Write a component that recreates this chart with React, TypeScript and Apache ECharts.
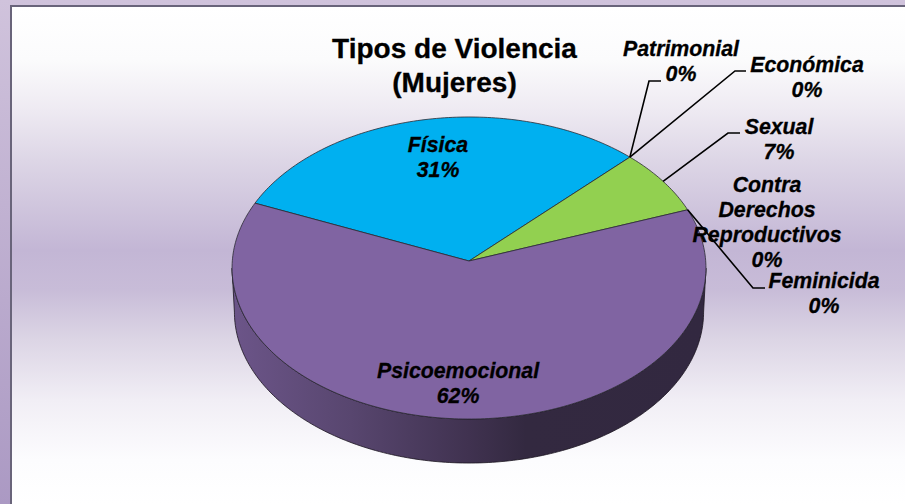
import React, { useEffect, useRef } from "react";
import * as echarts from "echarts";

const categories = ["Física", "Patrimonial", "Económica", "Sexual", "Contra\nDerechos\nReproductivos", "Feminicida", "Psicoemocional"];
const values = [31, 0, 0, 7, 0, 0, 62];
const sliceColors = ["#00b0f0", "#4f81bd", "#c0504d", "#92d050", "#4bacc6", "#f79646", "#8064a2"];
const titleLines = ["Tipos de Violencia", "(Mujeres)"];

// layout only
const FONT = '"Liberation Sans", Arial, sans-serif';
const START_ANGLE = 157;
const APEX = [469, 261];
const AX = 236.7, AY = 150.7, K = 0.0464, DEPTH = 44, BASE_SCALE = 0.99;
const labelCenters = [[438, 157.5], [681, 61.5], [807, 77], [779, 139.5], [767, 222], [824, 293.5], [458, 383.5]];
const leaderElbows: (number[][] | null)[] = [
  null,
  [[649, 81], [661, 81]],
  [[735, 71], [746, 71]],
  [[728, 133], [740, 133]],
  null,
  [[753, 288], [765, 288]],
  null,
];

const total = values.reduce((a, b) => a + b, 0);
const sliceAngles = (i: number) => {
  let used = 0;
  for (let k = 0; k < i; k++) used += values[k];
  const a1 = START_ANGLE - (used / total) * 360;
  return [a1, a1 - (values[i] / total) * 360];
};
const topPoint = (deg: number) => {
  const t = (deg * Math.PI) / 180;
  const w = 1 / (1 + K * Math.sin(t));
  return [APEX[0] + AX * Math.cos(t) * w, APEX[1] - AY * Math.sin(t) * w];
};
const basePoint = (deg: number) => {
  const p = topPoint(deg);
  return [APEX[0] + (p[0] - APEX[0]) * BASE_SCALE, p[1] + DEPTH];
};
const arc = (from: number, to: number, f: (d: number) => number[]) => {
  const n = Math.max(2, Math.ceil(Math.abs(from - to)));
  const out: number[][] = [];
  for (let i = 0; i <= n; i++) out.push(f(from + ((to - from) * i) / n));
  return out;
};

const seriesData = categories.map((name, i) => ({ name, value: values[i] }));

export default function App() {
  const ref = useRef<HTMLDivElement>(null);
  useEffect(() => {
    document.body.style.margin = "0";
    const chart = echarts.init(ref.current!, undefined, { renderer: "svg" });
    const stop = (y: number, color: string) => ({ offset: (y - 7) / 497, color });
    chart.setOption({
      animation: false,
      title: {
        text: titleLines.join("\n"),
        left: 449.5,
        top: 26.5,
        textAlign: "center",
        textStyle: {
          fontFamily: FONT, fontWeight: "bold", fontSize: 28, lineHeight: 34, color: "#000",
          textBorderColor: "#000", textBorderWidth: 0.3,
        },
      },
      graphic: [
        {
          type: "rect", z: -10, silent: true,
          shape: { x: 0, y: 0, width: 905, height: 504 },
          style: {
            fill: new echarts.graphic.LinearGradient(0, 0, 0, 1, [
              { offset: 0, color: "#d0c3dc" },
              { offset: 1, color: "#ab99c3" },
            ]),
          },
        },
        {
          type: "rect", z: -9, silent: true,
          shape: { x: 10, y: 5, width: 895, height: 499 },
          style: { fill: "#69647a" },
        },
        {
          type: "rect", z: -8, silent: true,
          shape: { x: 12, y: 7, width: 893, height: 497 },
          style: {
            fill: new echarts.graphic.LinearGradient(0, 0, 0, 1, [
              stop(7, "#ffffff"),
              stop(60, "#fbfbfc"),
              stop(110, "#eeeaf2"),
              stop(160, "#ddd6e6"),
              stop(250, "#c3b6d5"),
              stop(290, "#c8bcd8"),
              stop(340, "#dcd5e5"),
              stop(400, "#f1eef5"),
              stop(460, "#fcfcfe"),
              stop(504, "#ffffff"),
            ]),
          },
        },
      ],
      series: [
        {
          type: "custom", coordinateSystem: "none", z: 2, silent: true, data: seriesData,
          renderItem: (p: any) => {
            const [a1, a2] = sliceAngles(p.dataIndex);
            const hi = Math.min(a1, -2.7), lo = Math.max(a2, -177.3);
            if (!(hi > lo)) return { type: "group", children: [] };
            const pts = [...arc(hi, lo, topPoint), ...arc(lo, hi, basePoint)];
            return {
              type: "polygon",
              shape: { points: pts },
              style: {
                fill: new echarts.graphic.LinearGradient(232, 0, 706, 0, [
                  { offset: 0, color: "#6c5589" },
                  { offset: 0.25, color: "#58466f" },
                  { offset: 0.5, color: "#403250" },
                  { offset: 0.62, color: "#332940" },
                  { offset: 1, color: "#322840" },
                ], true),
                stroke: "#1a1420",
                lineWidth: 0.8,
              },
            };
          },
        },
        {
          type: "custom", coordinateSystem: "none", z: 3, silent: true, data: seriesData,
          renderItem: (p: any) => {
            const i = p.dataIndex;
            if (values[i] === 0) return { type: "group", children: [] };
            const [a1, a2] = sliceAngles(i);
            return {
              type: "polygon",
              shape: { points: [APEX, ...arc(a1, a2, topPoint)] },
              style: { fill: sliceColors[i], stroke: "#2b2b33", lineWidth: 0.8 },
            };
          },
        },
        {
          type: "custom", coordinateSystem: "none", z: 4, silent: true, data: seriesData,
          renderItem: (p: any) => {
            const i = p.dataIndex;
            const [a1, a2] = sliceAngles(i);
            const children: any[] = [];
            const elbows = leaderElbows[i];
            if (elbows) {
              children.push({
                type: "polyline",
                shape: { points: [topPoint((a1 + a2) / 2), ...elbows] },
                style: { fill: "none", stroke: "#000", lineWidth: 1.6 },
              });
            }
            children.push({
              type: "text",
              x: labelCenters[i][0],
              y: labelCenters[i][1],
              style: {
                text: `${categories[i]}\n${Math.round((values[i] / total) * 100)}%`,
                fontFamily: FONT,
                fontWeight: "bold",
                fontStyle: "italic",
                fontSize: 21.3,
                lineHeight: 25,
                fill: "#000",
                stroke: "#000",
                lineWidth: 0.3,
                align: "center",
                verticalAlign: "middle",
              },
            });
            return { type: "group", children };
          },
        },
      ],
    });
    return () => chart.dispose();
  }, []);
  return <div ref={ref} style={{ width: 905, height: 504 }} />;
}
